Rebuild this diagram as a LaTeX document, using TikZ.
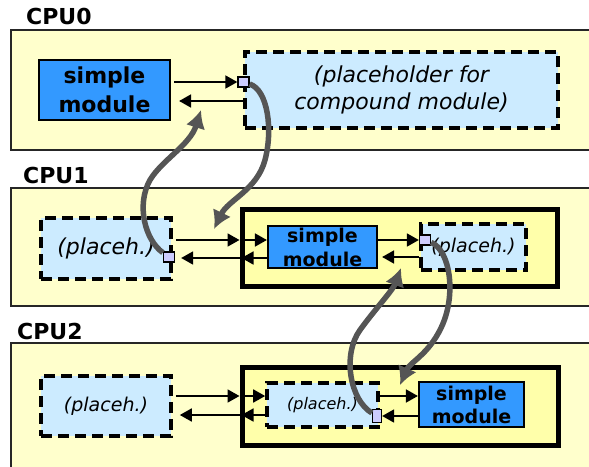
\documentclass[tikz,border=0pt]{standalone}
\usepackage{fontspec}
\setmainfont{DejaVu Sans}
\usetikzlibrary{arrows.meta, positioning, calc}
\definecolor{cpuyellow}{HTML}{FFFFCC}
\definecolor{cmpyellow}{HTML}{FFFFAA}
\definecolor{modblue}{HTML}{3399FF}
\definecolor{phblue}{HTML}{CCEBFF}
\definecolor{gatelilac}{HTML}{CCCCFF}
\definecolor{routegray}{HTML}{555555}

\begin{document}
\begin{tikzpicture}[x=1pt, y=-1pt]
    \tikzstyle{cpubox} = [rectangle, draw=black!85, line width=2pt, fill=cpuyellow, inner sep=0pt]
    \tikzstyle{cmpbox} = [rectangle, draw=black, line width=5pt, fill=cmpyellow, inner sep=0pt]
    \tikzstyle{simplemod} = [rectangle, draw=black, line width=2.2pt, fill=modblue, align=center, inner sep=0pt]
    \tikzstyle{placeh} = [rectangle, draw=black, line width=3.6pt, dash pattern=on 11pt off 6pt, fill=phblue, align=center, inner sep=0pt]
    \tikzstyle{gate} = [rectangle, draw=black, line width=1.3pt, fill=gatelilac, minimum width=11pt, minimum height=10pt, inner sep=0pt]
    \tikzstyle{msg} = [line width=1.8pt, -{Triangle[length=12pt,width=13pt]}]
    \tikzstyle{route} = [line width=5.5pt, draw=routegray, -{Latex[length=18pt,width=20pt]}]
    \tikzstyle{cpulabel} = [anchor=base west, inner sep=0pt, font=\bfseries\fontsize{22}{22}\selectfont]

    \useasboundingbox (0,0) rectangle (589,466);

    % CPU0
    \node[cpubox, minimum width=584pt, minimum height=120pt] (cpu0) at (303,90) {};
    \node[cpulabel] (lbl0) at (26,24) {CPU0};
    \node[simplemod, minimum width=131pt, minimum height=60pt, font=\bfseries\fontsize{22}{29}\selectfont] (sm0) at (104.5,90) {simple\\module};
    \node[placeh, minimum width=313pt, minimum height=76pt, font=\itshape\fontsize{22}{27}\selectfont] (ph0) at (401.5,90) {(placeholder for\\compound module)};
    \node[gate] (port0) at (243.5,82) {};

    % CPU1
    \node[cpubox, minimum width=584pt, minimum height=118pt] (cpu1) at (303,247) {};
    \node[cpulabel] (lbl1) at (23,183) {CPU1};
    \node[placeh, minimum width=130pt, minimum height=61pt, font=\itshape\fontsize{22}{25}\selectfont] (ph1a) at (106,248.5) {(placeh.)};
    \node[cmpbox, minimum width=315pt, minimum height=77pt] (cmp1) at (399.5,247.5) {};
    \node[simplemod, minimum width=109pt, minimum height=42pt, font=\bfseries\fontsize{19}{24}\selectfont] (sm1) at (322.5,247) {simple\\module};
    \node[placeh, minimum width=105pt, minimum height=46pt, font=\itshape\fontsize{19}{22}\selectfont] (ph1b) at (473.5,247) {(placeh.)};
    \node[gate] (port1a) at (169,257) {};
    \node[gate] (port1b) at (425,240) {};

    % CPU2
    \node[cpubox, minimum width=584pt, minimum height=127pt] (cpu2) at (303,406.5) {};
    \node[cpulabel] (lbl2) at (17,339) {CPU2};
    \node[placeh, minimum width=130pt, minimum height=60pt, font=\itshape\fontsize{19}{23}\selectfont] (ph2a) at (106,406) {(placeh.)};
    \node[cmpbox, minimum width=316pt, minimum height=78pt] (cmp2) at (400,406) {};
    \node[placeh, minimum width=111pt, minimum height=44pt, font=\itshape\fontsize{16}{20}\selectfont] (ph2b) at (322.5,405) {(placeh.)};
    \node[simplemod, minimum width=105pt, minimum height=45pt, font=\bfseries\fontsize{19}{23}\selectfont] (sm2) at (471.5,404.5) {simple\\module};
    \node[gate, minimum width=9pt, minimum height=13pt] (port2) at (377,416) {};

    % heights of the message lines
    \coordinate (out0) at (0,101);
    \coordinate (in1) at (0,240);
    \coordinate (out1) at (0,258);
    \coordinate (out1b) at (0,257);
    \coordinate (in2) at (0,396);
    \coordinate (out2) at (0,415);

    % messages inside each CPU
    \draw[msg] ([xshift=3pt]sm0.east |- port0) -- (port0);
    \draw[msg] (ph0.west |- out0) -- ([xshift=8pt]sm0.east |- out0);

    \draw[msg] ([xshift=3pt]ph1a.east |- in1) -- (cmp1.west |- in1);
    \draw[msg] (cmp1.west |- in1) -- (sm1.west |- in1);
    \draw[msg] (sm1.west |- out1) -- ([xshift=2pt]cmp1.west |- out1);
    \draw[msg] ([xshift=2pt]cmp1.west |- out1) -- ([xshift=6pt]port1a.east |- out1);
    \draw[msg] (sm1.east |- port1b) -- (port1b);
    \draw[msg] (ph1b.west |- out1b) -- ([xshift=4pt]sm1.east |- out1b);

    \draw[msg] ([xshift=3pt]ph2a.east |- in2) -- (cmp2.west |- in2);
    \draw[msg] (cmp2.west |- in2) -- (ph2b.west |- in2);
    \draw[msg] (ph2b.west |- out2) -- ([xshift=2pt]cmp2.west |- out2);
    \draw[msg] ([xshift=2pt]cmp2.west |- out2) -- ([xshift=7pt]ph2a.east |- out2);
    \draw[msg] (ph2b.east |- in2) -- (sm2.west |- in2);
    \draw[msg] (sm2.west |- port2) -- (port2);

    % routes between the CPUs
    \coordinate (tip0) at (201,110);
    \coordinate (tip1) at (214,229);
    \coordinate (tip1b) at (401,268);
    \coordinate (tip2) at (400,385);

    \draw[route] (port1a) .. controls (145,240) and (136,205) .. (150,180) .. controls (162,160) and (190,145) .. (tip0);
    \draw[route] (port0) .. controls (268,90) and (273,130) .. (265,160) .. controls (257,190) and (228,200) .. (tip1);
    \draw[route] (port1b) .. controls (450,250) and (457,295) .. (441,328) .. controls (428,355) and (410,362) .. (tip2);
    \draw[route] (port2) .. controls (350,400) and (342,355) .. (360,330) .. controls (376,308) and (393,290) .. (tip1b);
\end{tikzpicture}
\end{document}
